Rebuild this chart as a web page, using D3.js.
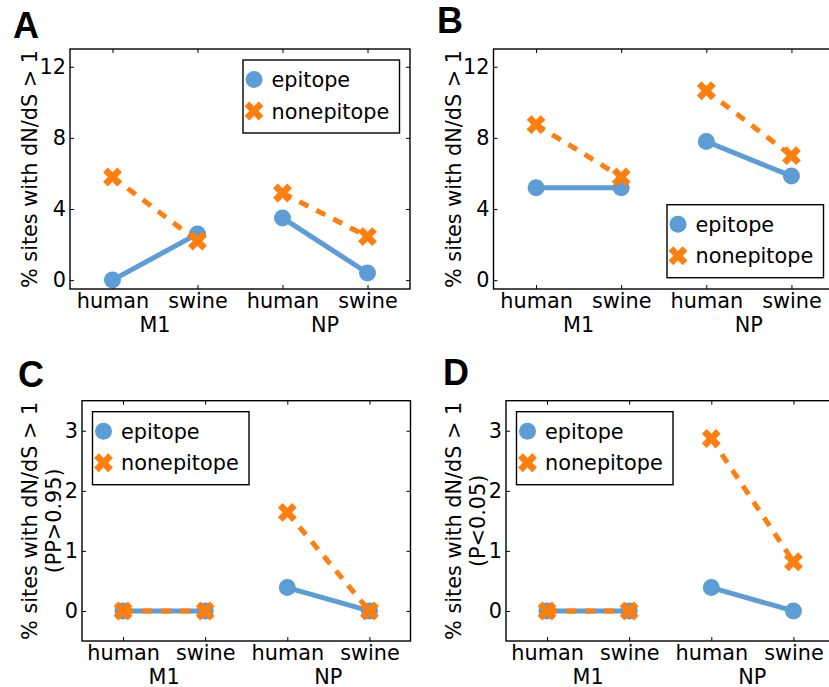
<!DOCTYPE html>
<html>
<head>
<meta charset="utf-8">
<script src="https://cdn.jsdelivr.net/npm/d3@7"></script>
<style>
  body { margin: 0; background: #fff; }
  svg { display: block; }
  text { font-family: "DejaVu Sans", sans-serif; }
</style>
</head>
<body>
<div id="chart"></div>
<script>
// categories
const hostLabels = ['human', 'swine', 'human', 'swine'];
const geneLabels = ['M1', 'NP'];
const seriesNames = ['epitope', 'nonepitope'];

// values (% sites with dN/dS > 1)
const epitopeA = [0, 2.6, 3.5, 0.4];
const nonepitopeA = [5.8, 2.2, 4.9, 2.45];
const epitopeB = [5.2, 5.2, 7.8, 5.85];
const nonepitopeB = [8.75, 5.8, 10.65, 7.0];
const epitopeC = [0, 0, 0.39, 0];
const nonepitopeC = [0, 0, 1.64, 0];
const epitopeD = [0, 0, 0.39, 0];
const nonepitopeD = [0, 0, 2.87, 0.82];

// ticks
const yTicksTop = [0, 4, 8, 12];
const yTicksBottom = [0, 1, 2, 3];

const W = 829, H = 687;
const blue = '#5b9dd4', orange = '#ff7f0e';
const fontSize = 20.8;

const panels = [
    { letter: 'A', lx: 13, ly: 38, left: 70, right: 410, top: 49, bottom: 289,
      domain: [-0.5, 13], ticks: yTicksTop, ep: epitopeA, ne: nonepitopeA,
      ylabel: ['% sites with dN/dS > 1'], legend: 'tr' },
    { letter: 'B', lx: 437, ly: 33, left: 493.5, right: 834, top: 49, bottom: 289,
      domain: [-0.5, 13], ticks: yTicksTop, ep: epitopeB, ne: nonepitopeB,
      ylabel: ['% sites with dN/dS > 1'], legend: 'br' },
    { letter: 'C', lx: 18, ly: 387, left: 82, right: 410.5, top: 400.7, bottom: 641,
      domain: [-0.5, 3.5], ticks: yTicksBottom, ep: epitopeC, ne: nonepitopeC,
      ylabel: ['% sites with dN/dS > 1', '(PP>0.95)'], legend: 'tl' },
    { letter: 'D', lx: 443, ly: 385, left: 506, right: 834.5, top: 400.7, bottom: 641,
      domain: [-0.5, 3.5], ticks: yTicksBottom, ep: epitopeD, ne: nonepitopeD,
      ylabel: ['% sites with dN/dS > 1', '(P<0.05)'], legend: 'tl' }
];

const svg = d3.select('#chart').append('svg')
    .attr('width', W)
    .attr('height', H);

// thick filled "X" marker like matplotlib's 'X'
function xMarkerPath(e) {
    const w = e / 3;
    const pts = [[-w, -e], [w, -e], [w, -w], [e, -w], [e, w], [w, w], [w, e], [-w, e], [-w, w], [-e, w], [-e, -w], [-w, -w]];
    const c = Math.SQRT1_2;
    return 'M' + pts.map(p => [(p[0] - p[1]) * c, (p[0] + p[1]) * c].join(',')).join('L') + 'Z';
}

function drawSeries(g, x, y, values, color, dashed, marker) {
    // one segment per gene (human -> swine)
    [[0, 1], [2, 3]].forEach(pair => {
        g.append('line')
            .attr('x1', x(pair[0])).attr('y1', y(values[pair[0]]))
            .attr('x2', x(pair[1])).attr('y2', y(values[pair[1]]))
            .attr('stroke', color)
            .attr('stroke-width', 5)
            .attr('stroke-dasharray', dashed ? '10,9' : null);
    });
    if (marker === 'circle') {
        g.selectAll(null).data(values).enter().append('circle')
            .attr('cx', (d, i) => x(i))
            .attr('cy', d => y(d))
            .attr('r', 8.5)
            .attr('fill', color);
    } else {
        g.selectAll(null).data(values).enter().append('path')
            .attr('d', xMarkerPath(10))
            .attr('transform', (d, i) => 'translate(' + x(i) + ',' + y(d) + ')')
            .attr('fill', color);
    }
}

panels.forEach(p => {
    const g = svg.append('g');
    const x = d3.scalePoint().domain(d3.range(hostLabels.length)).range([p.left, p.right]).padding(0.5);
    const y = d3.scaleLinear().domain(p.domain).range([p.bottom, p.top]);

    // panel letter
    svg.append('text')
        .attr('x', p.lx).attr('y', p.ly)
        .style('font-family', '"Liberation Sans", Arial, sans-serif')
        .style('font-weight', 'bold')
        .style('font-size', '36px')
        .text(p.letter);

    // axes (inward ticks on all four sides)
    g.append('g').attr('transform', 'translate(' + p.left + ',0)')
        .call(d3.axisLeft(y).tickValues(p.ticks).tickSize(-4).tickPadding(4).tickFormat(d3.format('d')));
    g.append('g').attr('transform', 'translate(' + p.right + ',0)')
        .call(d3.axisRight(y).tickValues(p.ticks).tickSize(-4).tickFormat(''));
    g.append('g').attr('transform', 'translate(0,' + p.top + ')')
        .call(d3.axisTop(x).tickSize(-4).tickFormat(''));
    g.append('g').attr('transform', 'translate(0,' + p.bottom + ')')
        .call(d3.axisBottom(x).tickSize(-4).tickPadding(4.5).tickFormat(i => hostLabels[i]));
    g.selectAll('.domain').remove();
    g.selectAll('.tick line').attr('stroke', '#000').attr('stroke-width', 1);
    g.selectAll('.tick text')
        .style('font-family', '"DejaVu Sans", sans-serif')
        .style('font-size', fontSize + 'px')
        .attr('fill', '#000');

    // gene labels
    geneLabels.forEach((name, k) => {
        g.append('text')
            .attr('x', (x(2 * k) + x(2 * k + 1)) / 2)
            .attr('y', p.bottom + 42.5)
            .attr('text-anchor', 'middle')
            .style('font-size', fontSize + 'px')
            .text(name);
    });

    // y label
    const n = p.ylabel.length;
    const yl = g.append('text')
        .attr('transform', 'translate(' + (p.left - 33 - (n - 1) * 12) + ',' + ((p.top + p.bottom) / 2) + ') rotate(-90)')
        .attr('text-anchor', 'middle')
        .style('font-size', fontSize + 'px');
    p.ylabel.forEach((line, i) => {
        yl.append('tspan').attr('x', 0).attr('y', i * 24).text(line);
    });

    // data
    const plot = g.append('g');
    drawSeries(plot, x, y, p.ep, blue, false, 'circle');
    drawSeries(plot, x, y, p.ne, orange, true, 'x');

    // frame
    g.append('rect')
        .attr('x', p.left).attr('y', p.top)
        .attr('width', p.right - p.left).attr('height', p.bottom - p.top)
        .attr('fill', 'none').attr('stroke', '#000').attr('stroke-width', 1.4);

    // legend
    const lw = 156.5, lh = 73;
    const lxPos = p.legend === 'tl' ? p.left + 10.5 : p.right - 10.5 - lw;
    const lyPos = p.legend === 'br' ? p.bottom - 11.3 - lh : p.top + 11;
    const leg = g.append('g').attr('transform', 'translate(' + lxPos + ',' + lyPos + ')');
    leg.append('rect')
        .attr('width', lw).attr('height', lh)
        .attr('fill', '#fff').attr('stroke', '#000').attr('stroke-width', 1.4);
    leg.append('circle').attr('cx', 11).attr('cy', 19.5).attr('r', 8.5).attr('fill', blue);
    leg.append('path').attr('d', xMarkerPath(10)).attr('transform', 'translate(11,51)').attr('fill', orange);
    seriesNames.forEach((s, i) => {
        leg.append('text')
            .attr('x', 28.5)
            .attr('y', (i === 0 ? 19.5 : 51) + 7.5)
            .style('font-size', fontSize + 'px')
            .text(s);
    });
});
</script>
</body>
</html>
